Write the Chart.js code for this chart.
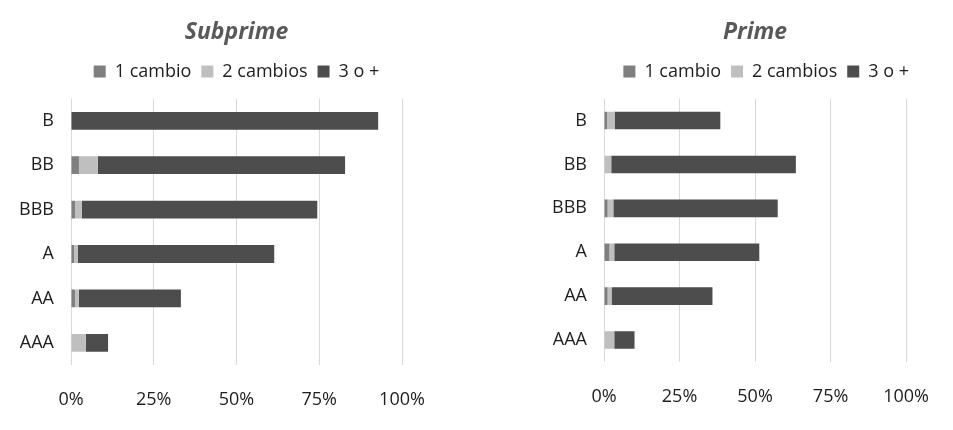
<!DOCTYPE html>
<html>
<head>
<meta charset="utf-8">
<script src="https://cdn.jsdelivr.net/npm/chart.js@4.4.1/dist/chart.umd.min.js"></script>
<style>
  body { margin: 0; background: #fff; }
  .box { position: absolute; top: 0; height: 430px; }
  #left { left: 0; width: 476px; }
  #right { left: 476px; width: 477px; }
</style>
</head>
<body>
<div class="box" id="left"><canvas id="subprime"></canvas></div>
<div class="box" id="right"><canvas id="prime"></canvas></div>
<script>
// Categories (rating) and series labels
var categories = ["B", "BB", "BBB", "A", "AA", "AAA"];
var seriesLabels = ["1 cambio", "2 cambios", "3 o +"];
var xTicks = [0, 25, 50, 75, 100];

// Subprime (% of accounts)
var subprimeUno = [0, 2.4, 1.2, 0.9, 1.2, 0];
var subprimeDos = [0, 5.7, 2.1, 1.2, 1.2, 4.5];
var subprimeTres = [92.8, 74.7, 71.1, 59.3, 30.8, 6.7];

// Prime (% of accounts)
var primeUno = [1.0, 0, 1.2, 1.8, 1.2, 0];
var primeDos = [2.5, 2.4, 1.9, 1.6, 1.3, 3.4];
var primeTres = [35.0, 61.1, 54.4, 48.0, 33.4, 6.7];

var colors = ["#7f7f7f", "#bfbfbf", "#4d4d4d"];
var fontFamily = "'Open Sans', sans-serif";
var textColor = "#1e1e1e";

function makeChart(id, title, series, opts) {
  var ctx = document.getElementById(id);
  return new Chart(ctx, {
    type: "bar",
    data: {
      labels: categories,
      datasets: series.map(function(vals, i) {
        return {
          label: seriesLabels[i],
          data: vals,
          backgroundColor: colors[i],
          borderWidth: 0,
          barPercentage: 0.4,
          categoryPercentage: 1
        };
      })
    },
    options: {
      indexAxis: "y",
      responsive: true,
      maintainAspectRatio: false,
      animation: false,
      layout: { padding: { top: 0, right: opts.rightPad, bottom: 0, left: 0 } },
      plugins: {
        title: {
          display: true,
          text: title,
          fullSize: false,
          color: "#595959",
          font: { family: fontFamily, size: 23, weight: "bold", style: "italic" },
          padding: { top: 19, bottom: 6 }
        },
        legend: {
          fullSize: opts.legendFull,
          align: opts.legendAlign,
          labels: {
            boxWidth: 12,
            boxHeight: 12,
            padding: 10,
            color: textColor,
            font: { family: fontFamily, size: 18 }
          }
        },
        // empty subtitle used as a small spacer between legend and bars
        subtitle: {
          display: true,
          text: "",
          fullSize: false,
          weight: 100,
          font: { size: 5, lineHeight: opts.gap + "px" },
          padding: 0
        },
        tooltip: { enabled: false }
      },
      scales: {
        x: {
          stacked: true,
          min: 0,
          max: 100,
          afterBuildTicks: function(axis) {
            axis.ticks = xTicks.map(function(v) { return { value: v }; });
          },
          grid: { color: "#d9d9d9", lineWidth: 1, drawTicks: false },
          border: { display: false },
          ticks: {
            padding: 24,
            color: textColor,
            font: { family: fontFamily, size: 18 },
            callback: function(v) { return v + "%"; }
          },
          afterFit: function(axis) { axis.height = opts.xHeight; }
        },
        y: {
          stacked: true,
          grid: { display: false, drawTicks: false },
          border: { display: false },
          ticks: {
            padding: 17,
            color: textColor,
            font: { family: fontFamily, size: 18 }
          },
          afterFit: function(axis) { axis.width = opts.yWidth; }
        }
      }
    }
  });
}

makeChart("subprime", "Subprime", [subprimeUno, subprimeDos, subprimeTres],
  { yWidth: 71, rightPad: 74, xHeight: 65, gap: 8, legendFull: false, legendAlign: "center" });
makeChart("prime", "Prime", [primeUno, primeDos, primeTres],
  { yWidth: 128, rightPad: 34, xHeight: 68, gap: 8, legendFull: true, legendAlign: "end" });
</script>
</body>
</html>
